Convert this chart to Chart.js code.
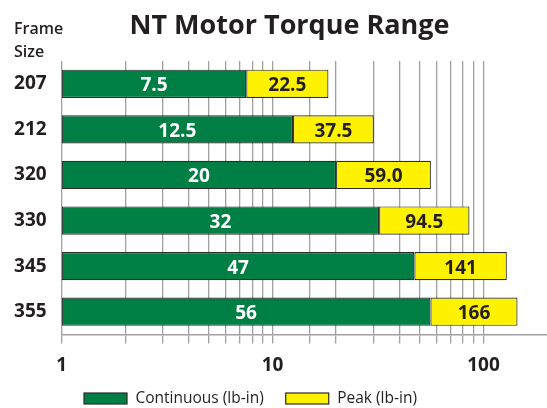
<!DOCTYPE html>
<html lang="en">
<head>
<meta charset="UTF-8">
<title>NT Motor Torque Range</title>
<script src="https://cdn.jsdelivr.net/npm/chart.js"></script>
<style>
  html, body { margin: 0; padding: 0; background: #fff; }
</style>
</head>
<body>
<canvas id="torqueChart" width="547" height="408"></canvas>
<script>
// values
const frameSizes = ['207', '212', '320', '330', '345', '355'];
const continuous = [7.5, 12.5, 20, 32, 47, 56];
const peakLabels = ['22.5', '37.5', '59.0', '94.5', '141', '166'];
// where the yellow bars actually stop on the log axis (shorter than the printed peak)
const peakBarEnd = [18.4, 30.2, 56.3, 85.8, 129, 145];
const tickLabels = [1, 10, 100];
const axisMin = 1, axisMax = 200;

const FONT = "'Open Sans', 'Noto Sans', sans-serif";
const GREEN = '#007f45', YELLOW = '#fff200', INK = '#231f20', GRID = '#a0a0a0', EDGE = '#2b2b2b';

// value text inside each bar
const barText = {
    id: 'barText',
    afterDatasetsDraw(chart) {
        const ctx = chart.ctx;
        ctx.save();
        ctx.font = 'bold 19px ' + FONT;
        ctx.textAlign = 'center';
        ctx.textBaseline = 'alphabetic';
        chart.data.datasets.forEach((ds, di) => {
            chart.getDatasetMeta(di).data.forEach((bar, i) => {
                const p = bar.getCenterPoint();
                ctx.fillStyle = di === 0 ? '#fff' : INK;
                ctx.fillText(di === 0 ? String(continuous[i]) : peakLabels[i], p.x, p.y + 7.5);
            });
        });
        ctx.restore();
    }
};

// title, "Frame Size" header and the legend underneath
const decor = {
    id: 'decor',
    afterDraw(chart) {
        const ctx = chart.ctx;
        ctx.save();
        ctx.fillStyle = INK;
        ctx.textBaseline = 'alphabetic';

        ctx.font = 'bold 27px ' + FONT;
        ctx.textAlign = 'center';
        ctx.fillText('NT Motor Torque Range', 289.5, 33.5);

        ctx.font = '600 16px ' + FONT;
        ctx.textAlign = 'left';
        ctx.fillText('Frame', 14, 34.3);
        ctx.fillText('Size', 14, 56.7);

        // legend
        ctx.font = '15.5px ' + FONT;
        let x = 84;
        chart.data.datasets.forEach(ds => {
            ctx.fillStyle = ds.backgroundColor;
            ctx.fillRect(x, 393, 43, 11);
            ctx.strokeStyle = EDGE;
            ctx.lineWidth = 1.2;
            ctx.strokeRect(x, 393, 43, 11);
            ctx.fillStyle = INK;
            ctx.fillText(ds.label, x + 51.5, 403.3);
            x += 51.5 + ctx.measureText(ds.label).width + 22;
        });
        ctx.restore();
    }
};

new Chart(document.getElementById('torqueChart'), {
    type: 'bar',
    data: {
        labels: frameSizes,
        datasets: [
            {
                label: 'Continuous (lb-in)',
                data: continuous.map(v => [axisMin, v]),
                backgroundColor: GREEN,
                borderColor: EDGE,
                borderWidth: 1.2,
                borderSkipped: false,
                grouped: false,
                barPercentage: 0.62,
                categoryPercentage: 1
            },
            {
                label: 'Peak (lb-in)',
                data: continuous.map((v, i) => [v, peakBarEnd[i]]),
                backgroundColor: YELLOW,
                borderColor: EDGE,
                borderWidth: 1.2,
                borderSkipped: false,
                grouped: false,
                barPercentage: 0.62,
                categoryPercentage: 1
            }
        ]
    },
    options: {
        indexAxis: 'y',
        responsive: false,
        animation: false,
        layout: { padding: { top: 61, left: 0, right: 0, bottom: 0 } },
        plugins: {
            legend: { display: false },
            tooltip: { enabled: false },
            title: { display: false }
        },
        scales: {
            x: {
                type: 'logarithmic',
                min: axisMin,
                max: axisMax,
                afterFit(s) {
                    s.height = 73.5;
                    s.paddingLeft = 0;
                    s.paddingRight = 0;
                },
                grid: {
                    color: c => (c.tick && c.tick.value <= 100) ? GRID : 'rgba(0,0,0,0)',
                    lineWidth: 1.3,
                    tickLength: 9
                },
                border: { display: true, color: GRID, width: 1.5 },
                ticks: {
                    autoSkip: false,
                    maxRotation: 0,
                    padding: 11,
                    color: INK,
                    font: { family: FONT, size: 19, weight: 'bold' },
                    callback: v => tickLabels.includes(v) ? String(v) : ''
                }
            },
            y: {
                afterFit(s) { s.width = 61.7; },
                grid: { display: false, drawTicks: false },
                border: { display: false },
                ticks: {
                    padding: 15,
                    color: INK,
                    font: { family: FONT, size: 19, weight: 'bold' }
                }
            }
        }
    },
    plugins: [barText, decor]
});
</script>
</body>
</html>
